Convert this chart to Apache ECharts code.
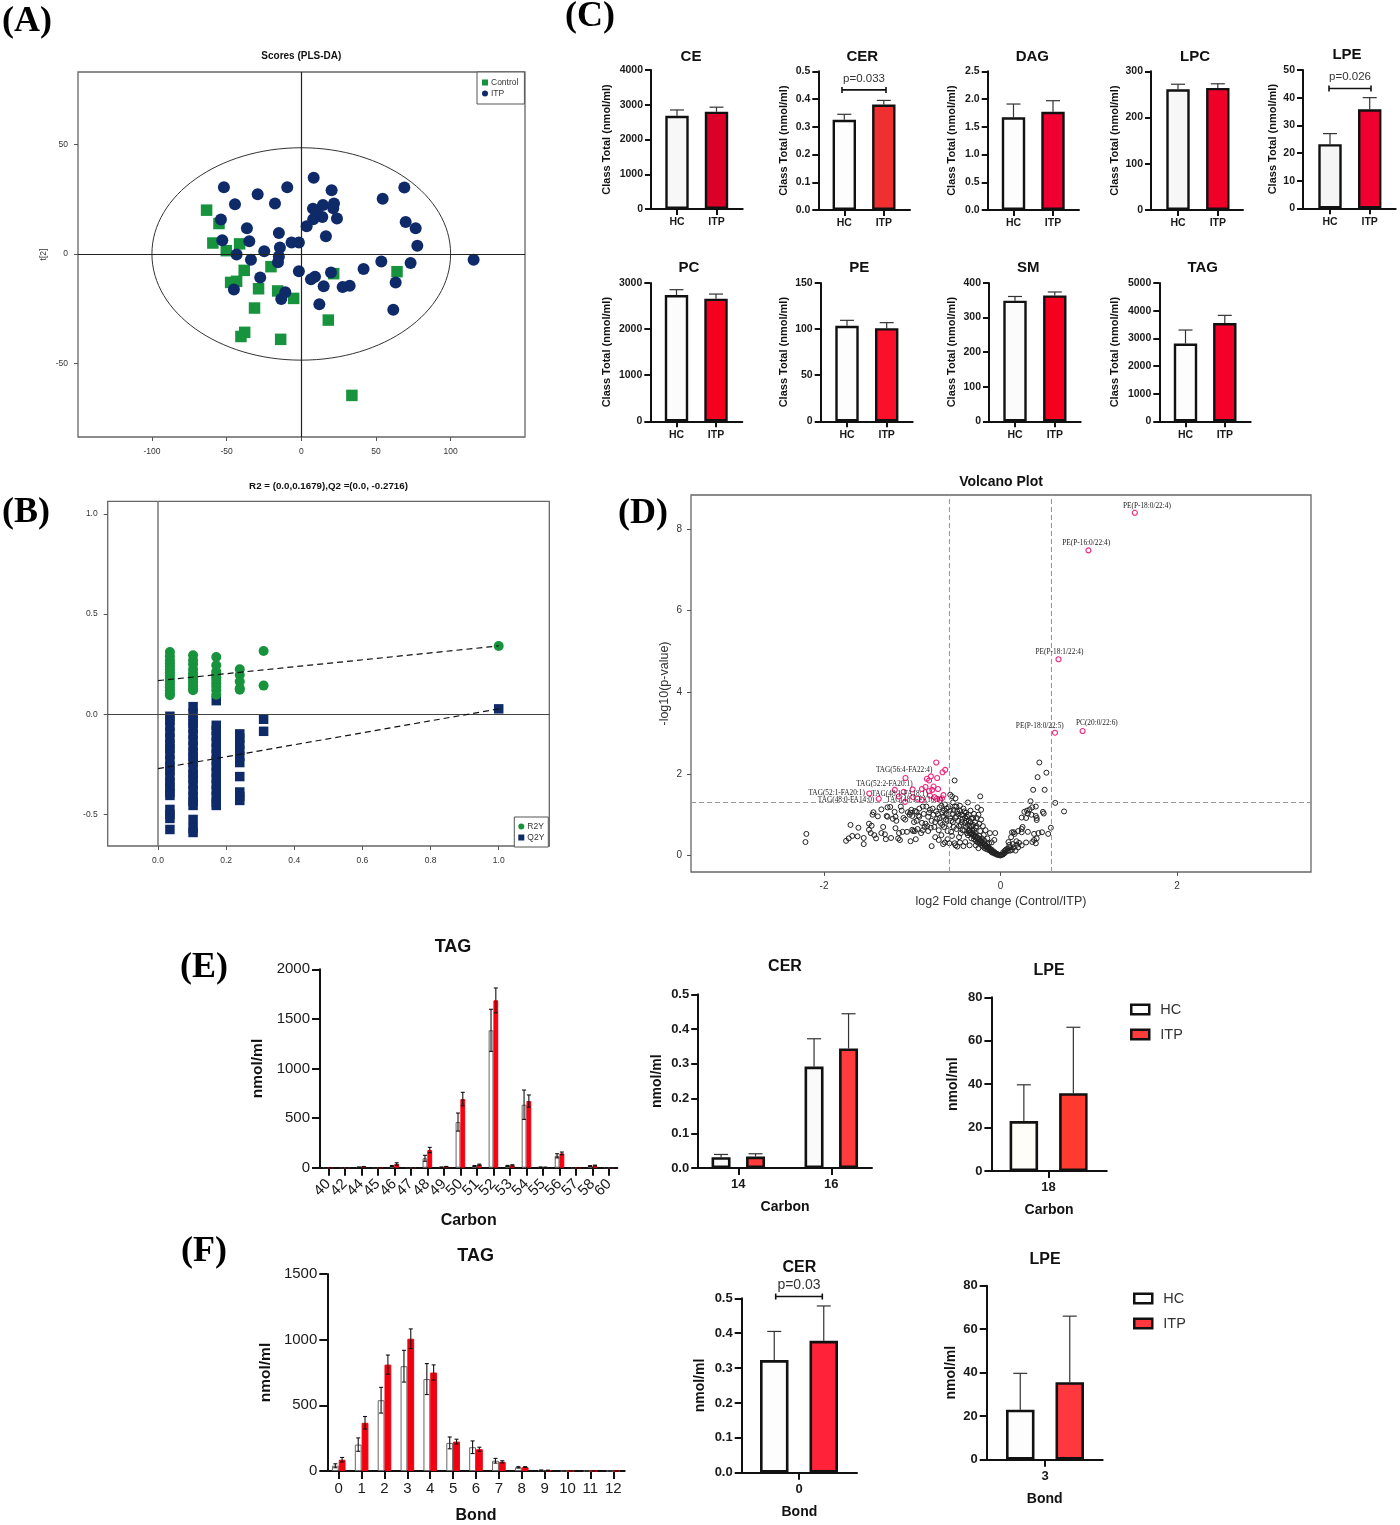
<!DOCTYPE html>
<html>
<head>
<meta charset="utf-8">
<script src="https://cdn.jsdelivr.net/npm/echarts@6/dist/echarts.min.js"></script>
<style>
html,body{margin:0;padding:0;background:#fff;}
#chart{width:1400px;height:1525px;}
</style>
</head>
<body>
<div id="chart"></div>
<script>
// A - PLS-DA scores
var controlScores=[[-63.4,20],[-55.1,13.9],[-59.2,5],[-41.3,4.6],[-50.2,1.5],[-38.2,-7.5],[-20.3,-5.8],[64.1,-8.1],[21.7,-9],[-47.3,-13],[-43.3,-12.5],[-28.6,-15.9],[-15.8,-16.9],[-5.1,-20.3],[-31.3,-24.7],[18.1,-30.2],[-37.9,-35.8],[-40.4,-37.7],[-13.8,-39],[33.9,-64.6]];
var itpScores=[[-51.8,30.5],[-44.4,22.7],[-29.2,27.3],[-17.6,23],[-9.4,30.5],[8.3,34.8],[20.3,29.1],[7.8,20.7],[14.5,22.4],[21.9,23],[21.4,20.9],[10.3,19.4],[8,15.9],[14.1,16.9],[23.9,16.2],[3.6,12.7],[16.5,8.1],[-53.8,15.7],[-36.4,11.7],[-15,9.6],[-52.9,6.3],[-34.8,5.8],[-6.5,5.2],[-1.6,5.2],[-14.3,3],[-24.8,1.2],[-43.3,-0.3],[-15,-1.2],[-15.6,-3.8],[-33.7,-2.7],[-1.6,-7.9],[-27.5,-10.8],[6.5,-11.6],[9.2,-10.4],[19.9,-8.5],[-45.1,-16.2],[15,-14.8],[27.7,-15.1],[32.4,-14.5],[-10.7,-17.5],[-13.4,-20.6],[12.1,-23],[41.7,-6.9],[53.6,-3.5],[63.2,-13],[61.6,-25.5],[73.2,-4.1],[54.5,25.2],[69,30.3],[69.9,14.6],[76.6,11.7],[77.7,3.7],[115.4,-2.7]];
var scoresEllipse=[0,0,100,48.5];
var scoresXTicks=[-100,-50,0,50,100];
var scoresYTicks=[-50,0,50];

// B - permutation test, one list per permuted column
var permColumns=[0.035,0.103,0.171,0.24,0.31,1];
var r2Perm=[
	[0.311,0.29,0.27,0.255,0.24,0.225,0.21,0.195,0.18,0.165,0.15,0.135,0.12,0.105,0.095],
	[0.295,0.27,0.25,0.225,0.205,0.19,0.175,0.16,0.145,0.13,0.12],
	[0.286,0.245,0.213,0.2,0.185,0.171,0.155,0.138,0.12,0.097],
	[0.225,0.196,0.163,0.13,0.122],
	[0.316,0.143],
	[0.341]
];
var q2Perm=[
	[-0.01,-0.03,-0.06,-0.09,-0.12,-0.15,-0.17,-0.2,-0.23,-0.26,-0.28,-0.31,-0.34,-0.36,-0.39,-0.405,-0.475,-0.5,-0.52,-0.575],
	[0.038,0.005,-0.03,-0.045,-0.07,-0.1,-0.13,-0.16,-0.19,-0.21,-0.24,-0.27,-0.3,-0.32,-0.35,-0.38,-0.41,-0.435,-0.455,-0.525,-0.57,-0.59],
	[0.068,-0.055,-0.08,-0.11,-0.14,-0.17,-0.2,-0.23,-0.26,-0.29,-0.32,-0.35,-0.38,-0.41,-0.44,-0.455],
	[-0.098,-0.12,-0.15,-0.18,-0.21,-0.241,-0.311,-0.388,-0.41,-0.43],
	[-0.025,-0.085],
	[0.027]
];
var r2Fit=[[0,0.1679],[1,0.341]];
var q2Fit=[[0,-0.2716],[1,0.027]];
var permXTicks=[0,0.2,0.4,0.6,0.8,1];
var permYTicks=[-0.5,0,0.5,1];

// C - class totals
var classNames=['CE','CER','DAG','LPC','LPE','PC','PE','SM','TAG'];
var classHC=[2680,0.325,1.67,261,23.2,2740,103.5,349,2810];
var classHCTop=[2850,0.345,1.91,272,27,2855,109.5,361,3300];
var classITP=[2800,0.38,1.77,264,35.8,2660,101,364,3550];
var classITPTop=[2930,0.395,1.97,273,40,2760,107,374,3830];
var classYMax=[4000,0.5,2.5,300,50,3000,150,400,5000];
var classYStep=[1000,0.1,0.5,100,10,1000,50,100,1000];
var classGroups=['HC','ITP'];

// D - volcano
var volcanoSig=[[1.522,8.4],[0.996,7.48],[0.657,4.81],[0.93,3.05],[0.617,3.01],[-0.728,2.28],[-0.627,2.1],[-0.657,2.04],[-1.077,1.9],[-0.789,1.94],[-0.834,1.88],[-0.809,1.84],[-0.718,1.9],[-1.198,1.61],[-0.996,1.62],[-1.097,1.56],[-0.89,1.63],[-0.85,1.68],[-0.759,1.69],[-0.708,1.63],[-0.809,1.58],[-0.774,1.61],[-0.799,1.47],[-0.647,1.48],[-1.487,1.52],[-1.38,1.39],[-1.153,1.45],[-1.082,1.315],[-0.991,1.43],[-0.941,1.39],[-0.89,1.36],[-0.748,1.43],[-0.723,1.39],[-0.683,1.36],[-0.662,1.405]];
var volcanoOther=[[-2.2,0.53],[-2.21,0.33],[-1.75,0.36],[-1.72,0.42],[-1.7,0.75],[-1.68,0.48],[-1.62,0.47],[-1.61,0.68],[-1.55,0.43],[-1.55,0.28],[-1.49,0.78],[-1.49,0.63],[-1.47,0.55],[-1.46,0.73],[-1.45,1],[-1.44,1.06],[-1.43,0.5],[-1.41,0.42],[-1.39,0.96],[-1.35,1.13],[-1.35,0.55],[-1.33,0.7],[-1.31,0.52],[-1.3,0.4],[-1.29,0.97],[-1.28,0.95],[-1.28,1.18],[-1.25,1.19],[-1.24,0.43],[-1.22,0.9],[-1.19,0.67],[-1.2,1.07],[-1.19,0.95],[-1.18,0.85],[-1.16,0.42],[-1.15,0.55],[-1.14,0.38],[-1.13,1.2],[-1.12,1.1],[-1.11,0.58],[-1.1,0.92],[-1.08,0.88],[-1.06,0.58],[-1.05,1.06],[-1.03,1],[-1.02,0.35],[-1,0.63],[-0.99,0.6],[-0.97,1.09],[-0.96,0.4],[-0.95,0.85],
	[-1.02,1.05],[-1.01,1.12],[-1,0.97],[-0.98,0.82],[-0.97,0.6],[-0.95,1.07],[-0.94,0.65],[-0.93,0.98],[-0.92,1.15],[-0.9,0.55],[-0.89,0.8],[-0.88,1.2],[-0.87,1.02],[-0.86,0.7],[-0.85,0.78],[-0.84,1.2],[-0.82,0.95],[-0.82,0.6],[-0.8,1.12],[-0.78,0.23],[-0.78,0.85],[-0.76,1],[-0.75,0.7],[-0.74,0.45],[-0.73,1.08],[-0.72,0.9],[-0.7,0.38],[-0.7,0.62],[-0.69,1.18],[-0.68,0.8],[-0.67,0.5],[-0.66,1.05],[-0.65,0.95],[-0.65,0.28],[-0.64,0.7],[-0.63,1.25],[-0.63,0.32],[-0.62,0.88],[-0.61,1.15],[-0.6,0.6],[-0.6,0.4],[-0.59,1],[-0.58,0.75],[-0.58,0.3],[-0.57,1.1],[-0.57,1.49],[-0.56,0.85],[-0.56,0.58],[-0.55,1.45],[-0.55,0.48],[-0.54,1.3],[-0.53,0.7],[-0.52,1.2],[-0.52,1.84],[-0.52,0.3],[-0.51,1.4],[-0.51,0.25],[-0.5,0.95],[-0.5,0.65],[-0.49,1.08],[-0.49,0.22],[-0.48,0.85],[-0.47,0.45],[-0.46,1.22],[-0.46,0.32],[-0.45,0.55],[-0.45,0.75],[-0.44,1],[-0.43,0.9],[-0.42,1.15],[-0.42,0.23],[-0.41,0.62],[-0.4,0.8],[-0.4,0.33],[-0.39,0.7],[-0.39,1.05],[-0.38,0.95],[-0.38,0.55],[-0.37,1.3],[-0.36,0.85],[-0.35,0.72],[-0.35,0.25],[-0.34,1.1],[-0.33,0.9],[-0.33,0.42],[-0.32,0.62],[-0.31,0.75],[-0.3,1.02],[-0.29,0.82],[-0.28,0.68],[-0.28,0.25],[-0.27,0.92],[-0.26,1.18],[-0.25,1],[-0.25,0.18],[-0.24,0.78],[-0.23,0.6],[-0.23,1.45],[-0.22,1.12],[-0.22,0.88],[-0.2,0.72],[-0.19,0.5],[-0.17,0.62],[-0.15,0.42],[-0.13,0.3],[-0.12,0.55],[-0.1,0.32],[-0.07,0.38],[-0.06,0.55],
	[-0.92,0.95],[-0.88,0.62],[-0.83,0.72],[-0.81,1.05],[-0.79,0.68],[-0.77,1.15],[-0.74,0.82],[-0.71,1.02],[-0.69,0.92],[-0.67,1.22],[-0.66,0.75],[-0.64,1.1],[-0.62,1.02],[-0.6,0.85],[-0.59,1.18],[-0.57,0.92],[-0.55,1.02],[-0.54,0.82],[-0.53,1.12],[-0.51,0.92],[-0.5,1.2],[-0.48,1.02],[-0.47,0.72],[-0.46,1.1],[-0.44,0.82],[-0.43,0.62],[-0.42,0.98],[-0.41,1.08],[-0.4,0.92],[-0.39,0.85],[-0.37,0.75],[-0.36,1],[-0.35,0.62],[-0.34,0.82],[-0.33,0.72],[-0.31,0.92],[-0.3,0.62],[-0.29,0.55],[-0.27,0.72],
	[-0.37,0.5],[-0.36,0.6],[-0.35,0.55],[-0.34,0.58],[-0.33,0.52],[-0.32,0.55],[-0.31,0.48],[-0.3,0.5],[-0.29,0.46],[-0.28,0.48],[-0.27,0.42],[-0.26,0.44],[-0.25,0.38],[-0.24,0.4],[-0.23,0.34],[-0.22,0.36],[-0.21,0.3],[-0.2,0.32],[-0.19,0.27],[-0.18,0.28],[-0.17,0.22],[-0.16,0.24],[-0.15,0.2],[-0.14,0.2],[-0.13,0.16],[-0.12,0.17],[-0.11,0.12],[-0.1,0.14],[-0.09,0.1],[-0.08,0.1],[-0.07,0.08],[-0.06,0.06],[-0.05,0.05],[-0.04,0.04],[-0.03,0.02],[-0.02,0.02],[-0.01,0.01],[0,0],
	[-0.3,0.4],[-0.28,0.36],[-0.26,0.32],[-0.24,0.3],[-0.22,0.26],[-0.2,0.22],[-0.18,0.18],[-0.16,0.16],[-0.14,0.14],[-0.12,0.12],[-0.1,0.08],[-0.08,0.06],[-0.06,0.04],[-0.04,0.02],[-0.24,0.48],[-0.21,0.42],[-0.18,0.36],[-0.15,0.28],
	[0.44,2.28],[0.52,2.03],[0.42,1.92],[0.5,1.61],[0.37,1.61],[0.62,1.29],[0.72,1.08],[0.34,1.33],[0.4,1.2],[0.36,1.18],[0.33,1.13],[0.3,1.1],[0.27,1.07],[0.31,1.03],[0.35,1],[0.48,1.07],[0.49,1.03],[0.24,0.93],[0.29,0.92],[0.41,0.92],[0.41,0.87],[0.4,0.97],[0.57,0.68],[0.25,0.7],[0.24,0.65],[0.2,0.6],[0.24,0.57],[0.31,0.58],[0.38,0.53],[0.43,0.55],[0.47,0.57],[0.54,0.53],[0.41,0.42],[0.38,0.38],[0.4,0.3],[0.36,0.33],[0.29,0.32],[0.24,0.25],[0.21,0.31],[0.18,0.35],[0.15,0.57],[0.13,0.57],[0.16,0.53],[0.12,0.45],[0.09,0.33],[0.14,0.28],[0.18,0.26],[0.17,0.12],[0.2,0.2],[0.15,0.2],[0.13,0.14],[0.11,0.2],[0.1,0.26],[0.08,0.17],[0.07,0.1],[0.09,0.12],[0.06,0.14],[0.05,0.07],[0.04,0.05],[0.03,0.03],[0.02,0.02],[0.01,0.02],[0.05,0.12],[0.11,0.12],[0.03,0.08]];
var volcanoLabels=[[1.659,8.57,'PE(P-18:0/22:4)'],[0.971,7.655,'PE(P-16:0/22:4)'],[0.668,4.98,'PE(P-18:1/22:4)'],[1.092,3.25,'PC(20:0/22:6)'],[0.445,3.17,'PE(P-18:0/22:5)'],[-1.092,2.1,'TAG(56:4-FA22:4)'],[-1.315,1.75,'TAG(52:2-FA20:1)'],[-1.856,1.536,'TAG(52:1-FA20:1)'],[-1.75,1.356,'TAG(48:0-FA14:0)'],[-1.143,1.51,'TAG(48:1-FA18:1)'],[-0.976,1.364,'TAG(48:1-FA16:0)']];
var volcanoCutX=[-0.585,0.585];
var volcanoCutY=[1.3];
var volcanoXTicks=[-2,0,2];
var volcanoYTicks=[0,2,4,6,8];

// E - by carbon number
var tagCarbon=['40','42','44','45','46','47','48','49','50','51','52','53','54','55','56','57','58','60'];
var tagCarbonHC=[1,1,5,1,17,1,95,5,460,17,1385,18,635,5,120,1,17,1];
var tagCarbonHCTop=[1,1,6,1,22,1,125,7,551,22,1597,23,783,7,141,1,21,1];
var tagCarbonITP=[1,1,10,1,38,1,178,10,692,30,1687,24,672,4,144,1,22,1];
var tagCarbonITPTop=[1,1,12,1,50,1,205,13,760,36,1812,30,733,6,158,1,26,1];
var cerCarbon=['14','16'];
var cerCarbonHC=[0.031,0.292];
var cerCarbonHCTop=[0.039,0.372];
var cerCarbonITP=[0.033,0.344];
var cerCarbonITPTop=[0.041,0.444];
var lpeCarbon=['18'];
var lpeCarbonHC=[23];
var lpeCarbonHCTop=[39.7];
var lpeCarbonITP=[35.8];
var lpeCarbonITPTop=[66.2];

// F - by double bond number
var tagBond=['0','1','2','3','4','5','6','7','8','9','10','11','12'];
var tagBondHC=[40,201,539,798,700,214,181,78,28,6,0,0,0];
var tagBondHCTop=[55,252,637,919,818,259,229,96,33,7,0,0,0];
var tagBondITP=[86,367,810,1007,750,224,166,70,30,5,0,0,0];
var tagBondITPTop=[103,415,883,1082,808,242,181,78,33,6,0,0,0];
var cerBond=['0'];
var cerBondHC=[0.323];
var cerBondHCTop=[0.405];
var cerBondITP=[0.378];
var cerBondITPTop=[0.478];
var lpeBond=['3'];
var lpeBondHC=[23];
var lpeBondHCTop=[39.7];
var lpeBondITP=[35.6];
var lpeBondITPTop=[66];

var SANS='"Liberation Sans"';
var SERIF='"Liberation Serif"';
var GREEN='#17933d';
var NAVY='#0f2a69';
var PINK='#f0257c';

var option={animation:false,backgroundColor:'#fff',title:[],grid:[],xAxis:[],yAxis:[],series:[],legend:[]};

function addText(text,x,y,size,bold,family,color){
	option.title.push({text:text,left:x,top:y,textAlign:'center',textVerticalAlign:'middle',padding:0,
		textStyle:{fontFamily:family||SANS,fontSize:size,fontWeight:bold?'bold':'normal',color:color||'#111'}});
}
// custom series helpers
function errorRender(offsetPx,capPx,color,width){
	return function(params,api){
		var lo=api.coord([api.value(0),api.value(1)]);
		var hi=api.coord([api.value(0),api.value(2)]);
		var x=lo[0]+offsetPx;
		var st={stroke:color,lineWidth:width};
		var kids=[
			{type:'line',shape:{x1:x,y1:lo[1],x2:x,y2:hi[1]},style:st},
			{type:'line',shape:{x1:x-capPx,y1:hi[1],x2:x+capPx,y2:hi[1]},style:st}
		];
		if(lo[1]-hi[1]>0&&api.value(3)){
			kids.push({type:'line',shape:{x1:x-capPx,y1:lo[1],x2:x+capPx,y2:lo[1]},style:st});
		}
		return {type:'group',children:kids};
	};
}
function bracketRender(params,api){
	var a=api.coord([api.value(0),api.value(2)]);
	var b=api.coord([api.value(1),api.value(2)]);
	var st={stroke:'#111',lineWidth:1.6};
	return {type:'group',children:[
		{type:'line',shape:{x1:a[0],y1:a[1],x2:b[0],y2:a[1]},style:st},
		{type:'line',shape:{x1:a[0],y1:a[1]-3,x2:a[0],y2:a[1]+3},style:st},
		{type:'line',shape:{x1:b[0],y1:a[1]-3,x2:b[0],y2:a[1]+3},style:st},
		{type:'text',x:(a[0]+b[0])/2,y:a[1]-11.5,style:{text:api.value(3)?params.seriesName:'',fill:'#333',textAlign:'center',textVerticalAlign:'middle',font:api.value(4)+'px '+SANS}}
	]};
}

// GraphPad style bar panel. layout holds the pixels, the arrays come from the top of the file
function barPanel(l,cats,hc,hcTop,itp,itpTop,yMax,yStep,dec,hcFill,itpFill){
	var g=option.grid.length;
	var ticks=[];
	for(var i=0;i<(l.split?2:cats.length);i++)ticks.push(i);
	option.grid.push({left:l.axisX,top:l.top,width:l.axisEnd-l.axisX,height:l.bottom-l.top});
	var xName={name:l.xName||'',nameLocation:'middle',nameGap:l.xNameGap||0,nameMoveOverlap:false,nameTextStyle:{fontFamily:SANS,fontWeight:'bold',fontSize:l.xNameFont||14,color:'#111'}};
	var xLine={onZero:false,lineStyle:{color:'#111',width:2}};
	var xLabel={margin:l.xMargin,rotate:l.rotate||0,fontFamily:SANS,fontSize:l.xFont,fontWeight:l.xBold?'bold':'normal',color:'#1a1a1a'};
	if(l.category){
		// the TAG panels have evenly spread ticks, a plain category axis fits them
		xLabel.interval=0;
		option.xAxis.push(Object.assign({gridIndex:g,type:'category',data:cats,splitLine:{show:false},axisLine:xLine,
			axisTick:{show:true,alignWithLabel:true,interval:0,length:l.tickLen,lineStyle:{color:'#111',width:2}},axisLabel:xLabel},xName));
	}else{
		// split and single-group panels: ticks sit off centre, so the band position is a value axis
		xLabel.customValues=ticks;
		xLabel.showMinLabel=true;
		xLabel.showMaxLabel=true;
		xLabel.formatter=function(v){return cats[Math.round(v)];};
		option.xAxis.push(Object.assign({gridIndex:g,type:'value',min:(l.axisX-l.tick0)/l.step,max:(l.axisEnd-l.tick0)/l.step,splitLine:{show:false},axisLine:xLine,
			axisTick:{show:true,customValues:ticks,length:l.tickLen,lineStyle:{color:'#111',width:2}},axisLabel:xLabel},xName));
	}
	option.yAxis.push({gridIndex:g,type:'value',min:0,max:yMax,interval:yStep,splitLine:{show:false},
		axisLine:{show:true,onZero:false,lineStyle:{color:'#111',width:2}},
		axisTick:{show:true,length:l.tickLen,lineStyle:{color:'#111',width:2}},
		axisLabel:{margin:l.tickLen+2,fontFamily:SANS,fontSize:l.yFont,fontWeight:l.yBold?'bold':'normal',color:'#1a1a1a',
			formatter:function(v){return v.toFixed(dec);}},
		name:l.yName,nameLocation:'middle',nameGap:l.axisX-l.nameX-l.yNameFont/2,nameMoveOverlap:false,nameRotate:90,
		nameTextStyle:{fontFamily:SANS,fontWeight:'bold',fontSize:l.yNameFont,color:'#111'}});
	addText(l.title,l.titleX,l.titleY+1,l.titleFont,true);

	var hcData,itpData,hcErr,itpErr,hcOff=0,itpOff=0,gap;
	function low(v,t){return l.both?Math.max(0,2*v-t):v;}
	if(l.split){
		// one bar per tick, HC on the first, ITP on the second
		hcData=[[0,hc]];itpData=[[1,itp]];
		hcErr=[[0,low(hc,hcTop),hcTop,0]];itpErr=[[1,low(itp,itpTop),itpTop,0]];
		gap='-100%';
	}else{
		hcData=hc.map(function(v,i){return [i,v];});
		itpData=itp.map(function(v,i){return [i,v];});
		hcErr=hc.map(function(v,i){return [i,low(v,hcTop[i]),hcTop[i],l.both?1:0];});
		itpErr=itp.map(function(v,i){return [i,low(v,itpTop[i]),itpTop[i],l.both?1:0];});
		gap=(l.gap/l.barW*100)+'%';
		hcOff=-(l.barW+l.gap)/2;itpOff=(l.barW+l.gap)/2;
	}
	option.series.push({name:'HC',type:'bar',xAxisIndex:g,yAxisIndex:g,data:hcData,barWidth:l.barW,barGap:gap,z:2,
		itemStyle:{color:hcFill,borderColor:l.hcBorder||'#111',borderWidth:l.border}});
	option.series.push({name:'ITP',type:'bar',xAxisIndex:g,yAxisIndex:g,data:itpData,barWidth:l.barW,barGap:gap,z:2,
		itemStyle:{color:itpFill,borderColor:l.itpBorder||'#111',borderWidth:l.border}});
	option.series.push({type:'custom',xAxisIndex:g,yAxisIndex:g,data:hcErr,z:1,encode:{x:0,y:[1,2]},
		renderItem:errorRender(hcOff,l.cap,l.errColor,l.errWidth)});
	option.series.push({type:'custom',xAxisIndex:g,yAxisIndex:g,data:itpErr,z:1,encode:{x:0,y:[1,2]},
		renderItem:errorRender(itpOff,l.cap,l.errColor,l.errWidth)});
	if(l.both){
		// symmetric bars sit on top of the columns in the TAG plots
		option.series[option.series.length-1].z=3;
		option.series[option.series.length-2].z=3;
	}
	if(l.bracket){
		var b=l.bracket;
		option.series.push({name:b.text,type:'custom',xAxisIndex:g,yAxisIndex:g,z:4,
			data:[[(b.from-l.tick0)/l.step,(b.to-l.tick0)/l.step,b.y,1,b.font]],encode:{x:[0,1],y:2},renderItem:bracketRender});
	}
}

// A
var gA=option.grid.length;
option.grid.push({left:78,top:72,width:447,height:365,show:true,borderColor:'#666',borderWidth:1.3,backgroundColor:'transparent'});
option.xAxis.push({gridIndex:gA,type:'value',min:-149.5,max:149.8,splitLine:{show:false},axisLine:{show:false,onZero:false},
	axisTick:{show:true,customValues:scoresXTicks,length:4,lineStyle:{color:'#555'}},
	axisLabel:{customValues:scoresXTicks,margin:10,fontFamily:SANS,fontSize:8.5,color:'#333'}});
option.yAxis.push({gridIndex:gA,type:'value',min:-83.6,max:83.1,splitLine:{show:false},axisLine:{show:false,onZero:false},
	axisTick:{show:true,customValues:scoresYTicks,length:4,lineStyle:{color:'#555'}},
	axisLabel:{customValues:scoresYTicks,margin:10,fontFamily:SANS,fontSize:8.5,color:'#333'},
	name:'t[2]',nameLocation:'middle',nameGap:30,nameMoveOverlap:false,nameTextStyle:{fontFamily:SANS,fontSize:8.5,color:'#333'}});
option.series.push({type:'line',xAxisIndex:gA,yAxisIndex:gA,data:[],z:1,symbol:'none',
	markLine:{silent:true,symbol:'none',label:{show:false},lineStyle:{color:'#222',type:'solid',width:1.2},data:[{xAxis:0},{yAxis:0}]}});
option.series.push({type:'custom',xAxisIndex:gA,yAxisIndex:gA,z:1,data:[scoresEllipse],
	encode:{x:0,y:1},
	renderItem:function(params,api){
		var c=api.coord([api.value(0),api.value(1)]);
		var e=api.coord([api.value(0)+api.value(2),api.value(1)+api.value(3)]);
		return {type:'ellipse',shape:{cx:c[0],cy:c[1],rx:e[0]-c[0],ry:c[1]-e[1]},style:{fill:'none',stroke:'#333',lineWidth:1}};
	}});
option.series.push({name:'Control',type:'scatter',xAxisIndex:gA,yAxisIndex:gA,data:controlScores,symbol:'rect',symbolSize:11.5,z:3,itemStyle:{color:GREEN,opacity:1}});
option.series.push({name:'ITP',type:'scatter',xAxisIndex:gA,yAxisIndex:gA,data:itpScores,symbol:'circle',symbolSize:12,z:4,itemStyle:{color:NAVY,opacity:1}});
addText('Scores (PLS-DA)',301.3,56,10,true);
option.legend.push({left:477,top:72,orient:'vertical',padding:[6,6,6,5],itemGap:2,itemWidth:6,itemHeight:6,selectedMode:false,
	borderColor:'#555',borderWidth:1,backgroundColor:'#fff',textStyle:{fontFamily:SANS,fontSize:8.5,color:'#333',padding:[0,0,0,-2]},
	data:[{name:'Control',icon:'rect',itemStyle:{color:GREEN,borderWidth:0}},{name:'ITP',icon:'circle',itemStyle:{color:NAVY,borderWidth:0}}]});

// B
var gB=option.grid.length;
function permPoints(lists){
	var out=[];
	lists.forEach(function(list,i){
		list.forEach(function(v){out.push([permColumns[i],v]);});
	});
	return out;
}
option.grid.push({left:107.7,top:501.3,width:441.6,height:344.7,show:true,borderColor:'#666',borderWidth:1.3,backgroundColor:'transparent'});
option.xAxis.push({gridIndex:gB,type:'value',min:-0.1476,max:1.1485,splitLine:{show:false},axisLine:{show:false,onZero:false},
	axisTick:{show:true,customValues:permXTicks,length:4,lineStyle:{color:'#555'}},
	axisLabel:{customValues:permXTicks,margin:10,fontFamily:SANS,fontSize:8.5,color:'#333',formatter:function(v){return v.toFixed(1);}}});
option.yAxis.push({gridIndex:gB,type:'value',min:-0.6575,max:1.063,splitLine:{show:false},axisLine:{show:false,onZero:false},
	axisTick:{show:true,customValues:permYTicks,length:4,lineStyle:{color:'#555'}},
	axisLabel:{customValues:permYTicks,margin:10,fontFamily:SANS,fontSize:8.5,color:'#333',formatter:function(v){return v.toFixed(1);}}});
option.series.push({type:'line',xAxisIndex:gB,yAxisIndex:gB,data:[],z:1,symbol:'none',
	markLine:{silent:true,symbol:'none',label:{show:false},animation:false,data:[
		{xAxis:0,lineStyle:{color:'#777',type:'solid',width:1.5}},
		{yAxis:0,lineStyle:{color:'#444',type:'solid',width:1.2}}
	]}});
option.series.push({name:'Q2Y',type:'scatter',xAxisIndex:gB,yAxisIndex:gB,data:permPoints(q2Perm),symbol:'rect',symbolSize:9.5,z:3,itemStyle:{color:NAVY,opacity:1}});
option.series.push({name:'R2Y',type:'scatter',xAxisIndex:gB,yAxisIndex:gB,data:permPoints(r2Perm),symbol:'circle',symbolSize:10,z:4,itemStyle:{color:GREEN,opacity:1}});
option.series.push({type:'line',xAxisIndex:gB,yAxisIndex:gB,data:r2Fit,symbol:'none',z:5,lineStyle:{color:'#111',type:[6,4],width:1.2}});
option.series.push({type:'line',xAxisIndex:gB,yAxisIndex:gB,data:q2Fit,symbol:'none',z:5,lineStyle:{color:'#111',type:[6,4],width:1.2}});
addText('R2 = (0.0,0.1679),Q2 =(0.0, -0.2716)',328.5,486,9.75,true);
option.legend.push({left:514.3,top:817,orient:'vertical',padding:[5,4,5,4],itemGap:2,itemWidth:6,itemHeight:6,selectedMode:false,
	borderColor:'#555',borderWidth:1,backgroundColor:'#fff',textStyle:{fontFamily:SANS,fontSize:8.5,color:'#333',padding:[0,0,0,-2]},
	data:[{name:'R2Y',icon:'circle',itemStyle:{color:GREEN}},{name:'Q2Y',icon:'rect',itemStyle:{color:NAVY}}]});

// C
var classLayout=[
	{axisX:651,axisEnd:742.7,top:70,bottom:209,tick0:677,step:39.5,titleX:691,titleY:55.7,nameX:606.7,fills:['#f7f7f7','#dc0028'],dec:0},
	{axisX:818.3,axisEnd:910,top:71.3,bottom:210,tick0:844.3,step:39.5,titleX:862.3,titleY:55.7,nameX:783.5,fills:['#fdfdfd','#f03030'],dec:1,bracket:{from:842,to:886,y:0.433,text:'p=0.033',font:11.5}},
	{axisX:987.7,axisEnd:1079,top:71.3,bottom:210,tick0:1013.5,step:39.5,titleX:1032.3,titleY:55.7,nameX:951.5,fills:['#fdfdfd','#f00030'],dec:1},
	{axisX:1151,axisEnd:1243,top:71.3,bottom:210,tick0:1178,step:39.8,titleX:1195,titleY:55.7,nameX:1115,fills:['#f7f7f7','#f00028'],dec:0},
	{axisX:1303,axisEnd:1395.7,top:70,bottom:208.3,tick0:1330,step:39.7,titleX:1347,titleY:54.3,nameX:1273,fills:['#f5f5f5','#f00030'],dec:0,bracket:{from:1329,to:1371,y:43.3,text:'p=0.026',font:11.5}},
	{axisX:650.3,axisEnd:742.3,top:283,bottom:421.3,tick0:676.5,step:39.5,titleX:689,titleY:267,nameX:606.5,fills:['#fcfcfc','#f5001e'],dec:0},
	{axisX:820.7,axisEnd:912.7,top:283,bottom:421.3,tick0:847,step:39.7,titleX:859.3,titleY:267,nameX:783.5,fills:['#fdfdfd','#fa102a'],dec:0},
	{axisX:989,axisEnd:1080.7,top:283,bottom:421.3,tick0:1015,step:39.8,titleX:1028.3,titleY:267,nameX:951.5,fills:['#fbfbfb','#f5001e'],dec:0},
	{axisX:1159.3,axisEnd:1250.7,top:283,bottom:421.3,tick0:1185.5,step:39.3,titleX:1202.7,titleY:267,nameX:1115,fills:['#fdfdfd','#f50028'],dec:0}
];
classNames.forEach(function(name,i){
	var l=classLayout[i];
	var fills=l.fills;
	l.split=true;l.title=name;l.titleFont=15;l.yName='Class Total (nmol/ml)';l.yNameFont=11;
	l.tickLen=6;l.xMargin=8;l.xFont=10.5;l.xBold=true;l.yFont=10.5;l.yBold=true;
	l.barW=23.4;l.border=2.4;l.cap=7;l.errColor='#333';l.errWidth=1.2;
	barPanel(l,classGroups,classHC[i],classHCTop[i],classITP[i],classITPTop[i],classYMax[i],classYStep[i],l.dec,fills[0],fills[1]);
});

// D
var gD=option.grid.length;
option.grid.push({left:691,top:495,width:620,height:377,show:true,borderColor:'#666',borderWidth:1.3,backgroundColor:'transparent'});
option.xAxis.push({gridIndex:gD,type:'value',min:-3.507,max:3.518,splitLine:{show:false},axisLine:{show:false,onZero:false},
	axisTick:{show:true,customValues:volcanoXTicks,length:4,lineStyle:{color:'#555'}},
	axisLabel:{customValues:volcanoXTicks,margin:9,fontFamily:SANS,fontSize:10,color:'#333'},
	name:'log2 Fold change (Control/ITP)',nameLocation:'middle',nameGap:23,nameMoveOverlap:false,nameTextStyle:{fontFamily:SANS,fontSize:12.5,color:'#333'}});
option.yAxis.push({gridIndex:gD,type:'value',min:-0.404,max:8.836,splitLine:{show:false},axisLine:{show:false,onZero:false},
	axisTick:{show:true,customValues:volcanoYTicks,length:4,lineStyle:{color:'#555'}},
	axisLabel:{customValues:volcanoYTicks,margin:9,fontFamily:SANS,fontSize:10,color:'#333'},
	name:'-log10(p-value)',nameLocation:'middle',nameGap:20,nameMoveOverlap:false,nameTextStyle:{fontFamily:SANS,fontSize:12.5,color:'#333'}});
var volcanoCuts=volcanoCutX.map(function(v){return {xAxis:v};}).concat(volcanoCutY.map(function(v){return {yAxis:v};}));
option.series.push({type:'line',xAxisIndex:gD,yAxisIndex:gD,data:[],z:1,symbol:'none',
	markLine:{silent:true,symbol:'none',label:{show:false},lineStyle:{color:'#999',type:[5,3],width:1.1},data:volcanoCuts}});
option.series.push({type:'scatter',xAxisIndex:gD,yAxisIndex:gD,data:volcanoOther,symbol:'circle',symbolSize:5,z:3,
	itemStyle:{color:'none',borderColor:'#222',borderWidth:1,opacity:1}});
option.series.push({type:'scatter',xAxisIndex:gD,yAxisIndex:gD,data:volcanoSig,symbol:'circle',symbolSize:5,z:4,
	itemStyle:{color:'none',borderColor:PINK,borderWidth:1.1,opacity:1}});
option.series.push({type:'custom',xAxisIndex:gD,yAxisIndex:gD,data:volcanoLabels,z:5,encode:{x:0,y:1},
	renderItem:function(params,api){
		var p=api.coord([api.value(0),api.value(1)]);
		return {type:'text',x:p[0],y:p[1],style:{text:volcanoLabels[params.dataIndex][2],fill:'#222',textAlign:'center',textVerticalAlign:'middle',font:'7.3px '+SERIF}};
	}});
addText('Volcano Plot',1001,482,14,true);

// E, F big panels share their look
function tagLayout(extra){
	var l={title:'TAG',titleFont:18,yName:'nmol/ml',yNameFont:15.5,xNameFont:16,tickLen:8,xFont:15,yFont:15,category:true,
		both:true,border:1,hcBorder:'#666',itpBorder:'#f2000f',gap:0,cap:2,errColor:'#111',errWidth:1.1};
	for(var k in extra)l[k]=extra[k];
	return l;
}
function smallLayout(extra){
	var l={titleFont:16,yName:'nmol/ml',yNameFont:14,xNameFont:14,tickLen:7,xFont:13,xBold:true,yFont:13,yBold:true,
		border:2.6,cap:7,errColor:'#333',errWidth:1.2};
	for(var k in extra)l[k]=extra[k];
	return l;
}
var RED='#ff3b3b';
barPanel(tagLayout({axisX:320,axisEnd:617.3,top:969.3,bottom:1167.7,barW:4.8,titleX:453,titleY:946,nameX:258,rotate:45,xMargin:14,xName:'Carbon',xNameGap:45}),
	tagCarbon,tagCarbonHC,tagCarbonHCTop,tagCarbonITP,tagCarbonITPTop,2000,500,0,'#fff','#fb0011');
barPanel(smallLayout({axisX:698.2,axisEnd:872,top:994.3,bottom:1168,tick0:738.3,step:93,barW:19,gap:15.5,title:'CER',titleX:785,titleY:966,nameX:656.8,xMargin:10,xName:'Carbon',xNameGap:32}),
	cerCarbon,cerCarbonHC,cerCarbonHCTop,cerCarbonITP,cerCarbonITPTop,0.5,0.1,1,'#fafafa',RED);
barPanel(smallLayout({axisX:991.4,axisEnd:1106.8,top:997.3,bottom:1171,tick0:1048.6,step:50,barW:28.5,gap:21,title:'LPE',titleX:1049,titleY:970,nameX:953.6,xMargin:10,xName:'Carbon',xNameGap:32}),
	lpeCarbon,lpeCarbonHC,lpeCarbonHCTop,lpeCarbonITP,lpeCarbonITPTop,80,20,0,'#fffdf7','#ff3b30');
barPanel(tagLayout({axisX:327.3,axisEnd:624.7,top:1274,bottom:1472.7,barW:6.8,titleX:475.7,titleY:1255,nameX:266,xMargin:10,xName:'Bond',xNameGap:37}),
	tagBond,tagBondHC,tagBondHCTop,tagBondITP,tagBondITPTop,1500,500,0,'#fff','#f2000f');
barPanel(smallLayout({axisX:741.7,axisEnd:857,top:1298.3,bottom:1472.7,tick0:799,step:50,barW:28.5,gap:21,title:'CER',titleX:799.3,titleY:1266.7,nameX:700,xMargin:10,xName:'Bond',xNameGap:32,
	bracket:{from:775.7,to:822.3,y:0.505,text:'p=0.03',font:14}}),
	cerBond,cerBondHC,cerBondHCTop,cerBondITP,cerBondITPTop,0.5,0.1,1,'#fdfdfd','#ff2238');
barPanel(smallLayout({axisX:986.7,axisEnd:1102.7,top:1285.7,bottom:1459.7,tick0:1045,step:50,barW:28.5,gap:21,title:'LPE',titleX:1045,titleY:1258.3,nameX:950.7,xMargin:10,xName:'Bond',xNameGap:32}),
	lpeBond,lpeBondHC,lpeBondHCTop,lpeBondITP,lpeBondITPTop,80,20,0,'#fdfdfd','#ff3840');

function groupLegend(left,top,red){
	option.legend.push({left:left,top:top,orient:'vertical',padding:0,itemGap:10,itemWidth:18,itemHeight:9.5,selectedMode:false,
		textStyle:{fontFamily:SANS,fontSize:14.5,color:'#333',padding:[0,0,0,6]},
		data:[{name:'HC',icon:'rect',itemStyle:{color:'#fff',borderColor:'#111',borderWidth:2.5}},
			{name:'ITP',icon:'rect',itemStyle:{color:red,borderColor:'#111',borderWidth:2.5}}]});
}
groupLegend(1130,1002,RED);
groupLegend(1133,1291,'#ff3840');

// panel letters
addText('(A)',27,22,36,true,SERIF,'#000');
addText('(B)',26,513,36,true,SERIF,'#000');
addText('(C)',590,17,36,true,SERIF,'#000');
addText('(D)',643,514,36,true,SERIF,'#000');
addText('(E)',204,968,36,true,SERIF,'#000');
addText('(F)',204,1252,36,true,SERIF,'#000');

var chart=echarts.init(document.getElementById('chart'));
chart.setOption(option);
</script>
</body>
</html>
